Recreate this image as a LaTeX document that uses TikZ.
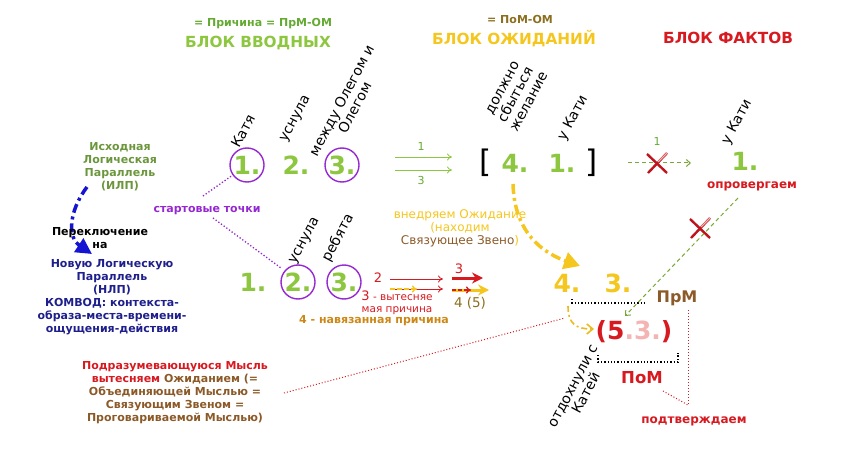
\documentclass[tikz,border=0pt]{standalone}
\usepackage{fontspec}
\setmainfont{DejaVu Sans}
\usetikzlibrary{arrows.meta}

\definecolor{grnnum}{RGB}{141,198,63}
\definecolor{grnsm}{RGB}{100,170,50}
\definecolor{grnolive}{RGB}{107,150,60}
\definecolor{goldc}{RGB}{245,198,30}
\definecolor{olivebr}{RGB}{140,110,30}
\definecolor{redc}{RGB}{215,25,32}
\definecolor{purp}{RGB}{150,40,210}
\definecolor{navyc}{RGB}{30,30,140}
\definecolor{brn}{RGB}{140,90,40}
\definecolor{pinkc}{RGB}{244,180,180}
\definecolor{amber}{RGB}{205,135,20}
\definecolor{bluec}{RGB}{20,20,210}
\definecolor{crossred}{RGB}{190,20,30}

\tikzset{
  txt/.style={font=\fontsize{11}{13}\selectfont\bfseries, align=center, inner sep=0pt},
  plain/.style={font=\fontsize{12}{13}\selectfont, align=center, inner sep=0pt},
  lbl/.style={font=\fontsize{14}{15}\selectfont, align=center, inner sep=0pt, rotate=62},
  ttl/.style={font=\fontsize{15.3}{16}\selectfont\bfseries, inner sep=0pt},
  num/.style={font=\fontsize{25}{25}\selectfont\bfseries, text=grnnum, inner sep=0pt},
  ringed/.style={circle, draw=purp, line width=1.4pt, minimum size=34pt},
  brk/.style={font=\fontsize{31}{31}\selectfont, inner sep=0pt},
  thinarr/.style={-{To[length=5pt,width=7pt]}, line width=0.8pt},
  dasharr/.style={draw=grnnum!85!black, dash pattern=on 4pt off 3pt, line width=1pt,
    -{Straight Barb[length=4pt,width=7pt]}},
  dotline/.style={dotted, line width=1.3pt},
  nocross/.pic={
    \draw[line width=2.4pt, crossred] (-10,-9) -- (10,10);
    \draw[line width=2.4pt, crossred] (-9,10) -- (10,-10);
    \draw[line width=1.2pt, pinkc] (1,-1) -- (10,-10);
  },
}

\begin{document}
\begin{tikzpicture}[x=1pt,y=-1pt]
\useasboundingbox (0,0) rectangle (853,465);

% headers
\node[txt, text=grnsm] (prich) at (263,24) {= Причина = ПрМ-ОМ};
\node[ttl, text=grnnum] (vvod) at (258,43) {БЛОК ВВОДНЫХ};
\node[txt, text=olivebr] (pom) at (520,19) {= ПоМ-ОМ};
\node[ttl, text=goldc] (ozh) at (514,39) {БЛОК ОЖИДАНИЙ};
\node[ttl, text=redc] (fakt) at (728,38) {БЛОК ФАКТОВ};

% top row
\node[num, ringed] (a1) at (247,165) {1.};
\node[num] (a2) at (296,165) {2.};
\node[num, ringed] (a3) at (342,165) {3.};
\node[lbl] (la1) at (243,131) {Катя};
\node[lbl] (la2) at (296,119) {уснула};
\node[lbl] (la3) at (348,104) {между Олегом и\\Олегом};

\coordinate (g1s) at (395,157); \coordinate (g1e) at (452,157);
\coordinate (g3s) at (395,170); \coordinate (g3e) at (452,170);
\draw[thinarr, grnnum] (g1s) -- (g1e);
\draw[thinarr, grnnum] (g3s) -- (g3e);
\node[plain, font=\fontsize{11}{11}\selectfont, text=grnsm] (n1) at (421,146) {1};
\node[plain, font=\fontsize{11}{11}\selectfont, text=grnsm] (n3) at (421,180) {3};

\node[brk] (lb) at (486,163) {[};
\node[num] (b4) at (515,163) {4.};
\node[num] (b1) at (562,163) {1.};
\node[brk] (rb) at (592,163) {]};
\node[lbl] (lb4) at (516,95) {должно\\сбыться\\желание};
\node[lbl] (lb1) at (573,118) {у Кати};

\coordinate (d1s) at (628,163); \coordinate (d1e) at (691,163);
\draw[dasharr] (d1s) -- (d1e);
\node[plain, font=\fontsize{11}{11}\selectfont, text=grnsm] (n1b) at (657,141) {1};
\pic at (657,163) {nocross};
\node[lbl] (lc1) at (737,122) {у Кати};
\node[num] (c1) at (745,161) {1.};
\node[txt, font=\fontsize{12}{13}\selectfont\bfseries, text=redc] (oprov) at (752,186) {опровергаем};

% left side
\node[txt, text=grnolive] (ilp) at (120,167) {Исходная\\Логическая\\Параллель\\(ИЛП)};
\coordinate (bs) at (87,187); \coordinate (be) at (92,254);
\draw[bluec, line width=3.5pt, dash pattern=on 9pt off 4pt on 3pt off 4pt,
  -{Triangle[length=16pt,width=16pt]}] (bs) .. controls (68,212) and (68,238) .. (be);
\node[txt, text=black] (perekl) at (100,238) {Переключение\\на};
\node[txt, text=navyc] (nlp) at (112,297) {Новую Логическую\\Параллель\\(НЛП)\\КОМВОД: контекста-\\образа-места-времени-\\ощущения-действия};
\node[txt, text=purp] (start) at (207,211) {стартовые точки};
\draw[dotline, purp] (203,196) -- (a1);
\coordinate (ps) at (213,218);
\draw[dotline, purp] (ps) -- (281,268);

% lower row
\node[num] (d1) at (253,282) {1.};
\node[num, ringed] (d2) at (298,282) {2.};
\node[num, ringed] (d3) at (344,282) {3.};
\node[lbl] (ld2) at (305,241) {уснула};
\node[lbl] (ld3) at (338,238) {ребята};

\node[plain, font=\fontsize{13}{13}\selectfont, text=redc] (r2) at (378,278) {2};
\coordinate (r1s) at (390,279); \coordinate (r1e) at (443,279);
\coordinate (r2s) at (390,289); \coordinate (r2e) at (443,289);
\coordinate (y1e) at (417,289);
\draw[thinarr, redc] (r1s) -- (r1e);
\draw[thinarr, redc] (r2s) -- (r2e);
\draw[goldc, line width=1.4pt, dash pattern=on 5pt off 2pt, -{To[length=5pt,width=7pt]}] (r2s) -- (y1e);
\coordinate (t3s) at (452,278); \coordinate (t3e) at (483,278);
\draw[redc, line width=3pt, -{Stealth[length=11pt,width=11pt]}] (t3s) -- (t3e);
\node[plain, font=\fontsize{13}{13}\selectfont, text=redc] (r3) at (459,269) {3};
\coordinate (t4s) at (452,290); \coordinate (t4e) at (489,290);
\coordinate (t4m) at (471,290);
\draw[goldc, line width=3pt, -{Stealth[length=11pt,width=11pt]}] (t4s) -- (t4e);
\draw[redc, line width=1.3pt, dash pattern=on 4pt off 2pt, -{To[length=5pt,width=7pt]}] (t4s) -- (t4m);
\node[plain, font=\fontsize{13.5}{14}\selectfont, text=olivebr] (r45) at (470,303) {4 (5)};
\node[plain, font=\fontsize{10.5}{12}\selectfont, text=redc] (vyt) at (397,303) {{\fontsize{13}{13}\selectfont 3} - вытесняе\\мая причина};
\node[txt, text=amber] (navyaz) at (374,321) {4 - навязанная причина};
\node[plain, text=goldc] (vnedr) at (460,228) {внедряем Ожидание\\(находим\\\textcolor{brn}{Связующее Звено})};

% expectation to fact
\coordinate (ys) at (513,184); \coordinate (ye) at (580,266);
\draw[goldc, line width=3.5pt, dash pattern=on 10pt off 4pt on 3pt off 4pt,
  -{Triangle[length=16pt,width=17pt]}] (ys) .. controls (514,225) and (535,250) .. (ye);
\node[num, text=goldc] (e4) at (567,283) {4.};
\node[num, text=goldc] (e3) at (618,283) {3.};
\draw[dotline, black] (572,299) -- (572,303) -- (647,303);
\node[txt, font=\fontsize{16}{16}\selectfont\bfseries, text=brn] (prm) at (677,298) {ПрМ};
\coordinate (ws) at (568,306); \coordinate (we) at (594,329);
\draw[goldc!90!brn, line width=1.6pt, dash pattern=on 6pt off 3pt on 2pt off 3pt,
  -{Straight Barb[length=6pt,width=10pt]}] (ws) .. controls (568,324) and (576,329) .. (we);
\node[num, text=redc] (p53) at (634,332) {(5\textcolor{pinkc}{.3.})};
\coordinate (gs) at (738,198);
\draw[dasharr] (gs) -- (625,316);
\pic at (700,228) {nocross};
\draw[dotline, black] (598,355) -- (598,362) -- (678,362) -- (678,353);
\node[txt, font=\fontsize{16.5}{17}\selectfont\bfseries, text=redc] (pomf) at (642,378) {ПоМ};
\coordinate (vj) at (688,405);
\draw[dotline, redc, line width=1pt] (688,310) -- (vj);
\draw[dotline, redc, line width=1pt] (663,391) -- (vj);
\node[txt, font=\fontsize{12}{13}\selectfont\bfseries, text=redc] (podtv) at (694,421) {подтверждаем};
\node[lbl, text=black] (otd) at (580,390) {отдохнули с\\Катей};

% bottom left
\node[txt, text=brn] (podraz) at (175,393) {\textcolor{redc}{Подразумевающуюся Мысль}\\\textcolor{redc}{вытесняем} Ожиданием (=\\Объединяющей Мыслью =\\Связующим Звеном =\\Проговариваемой Мыслью)};
\coordinate (ms) at (284,393);
\draw[dotline, redc, line width=1pt] (ms) -- (565,318);
\end{tikzpicture}
\end{document}
